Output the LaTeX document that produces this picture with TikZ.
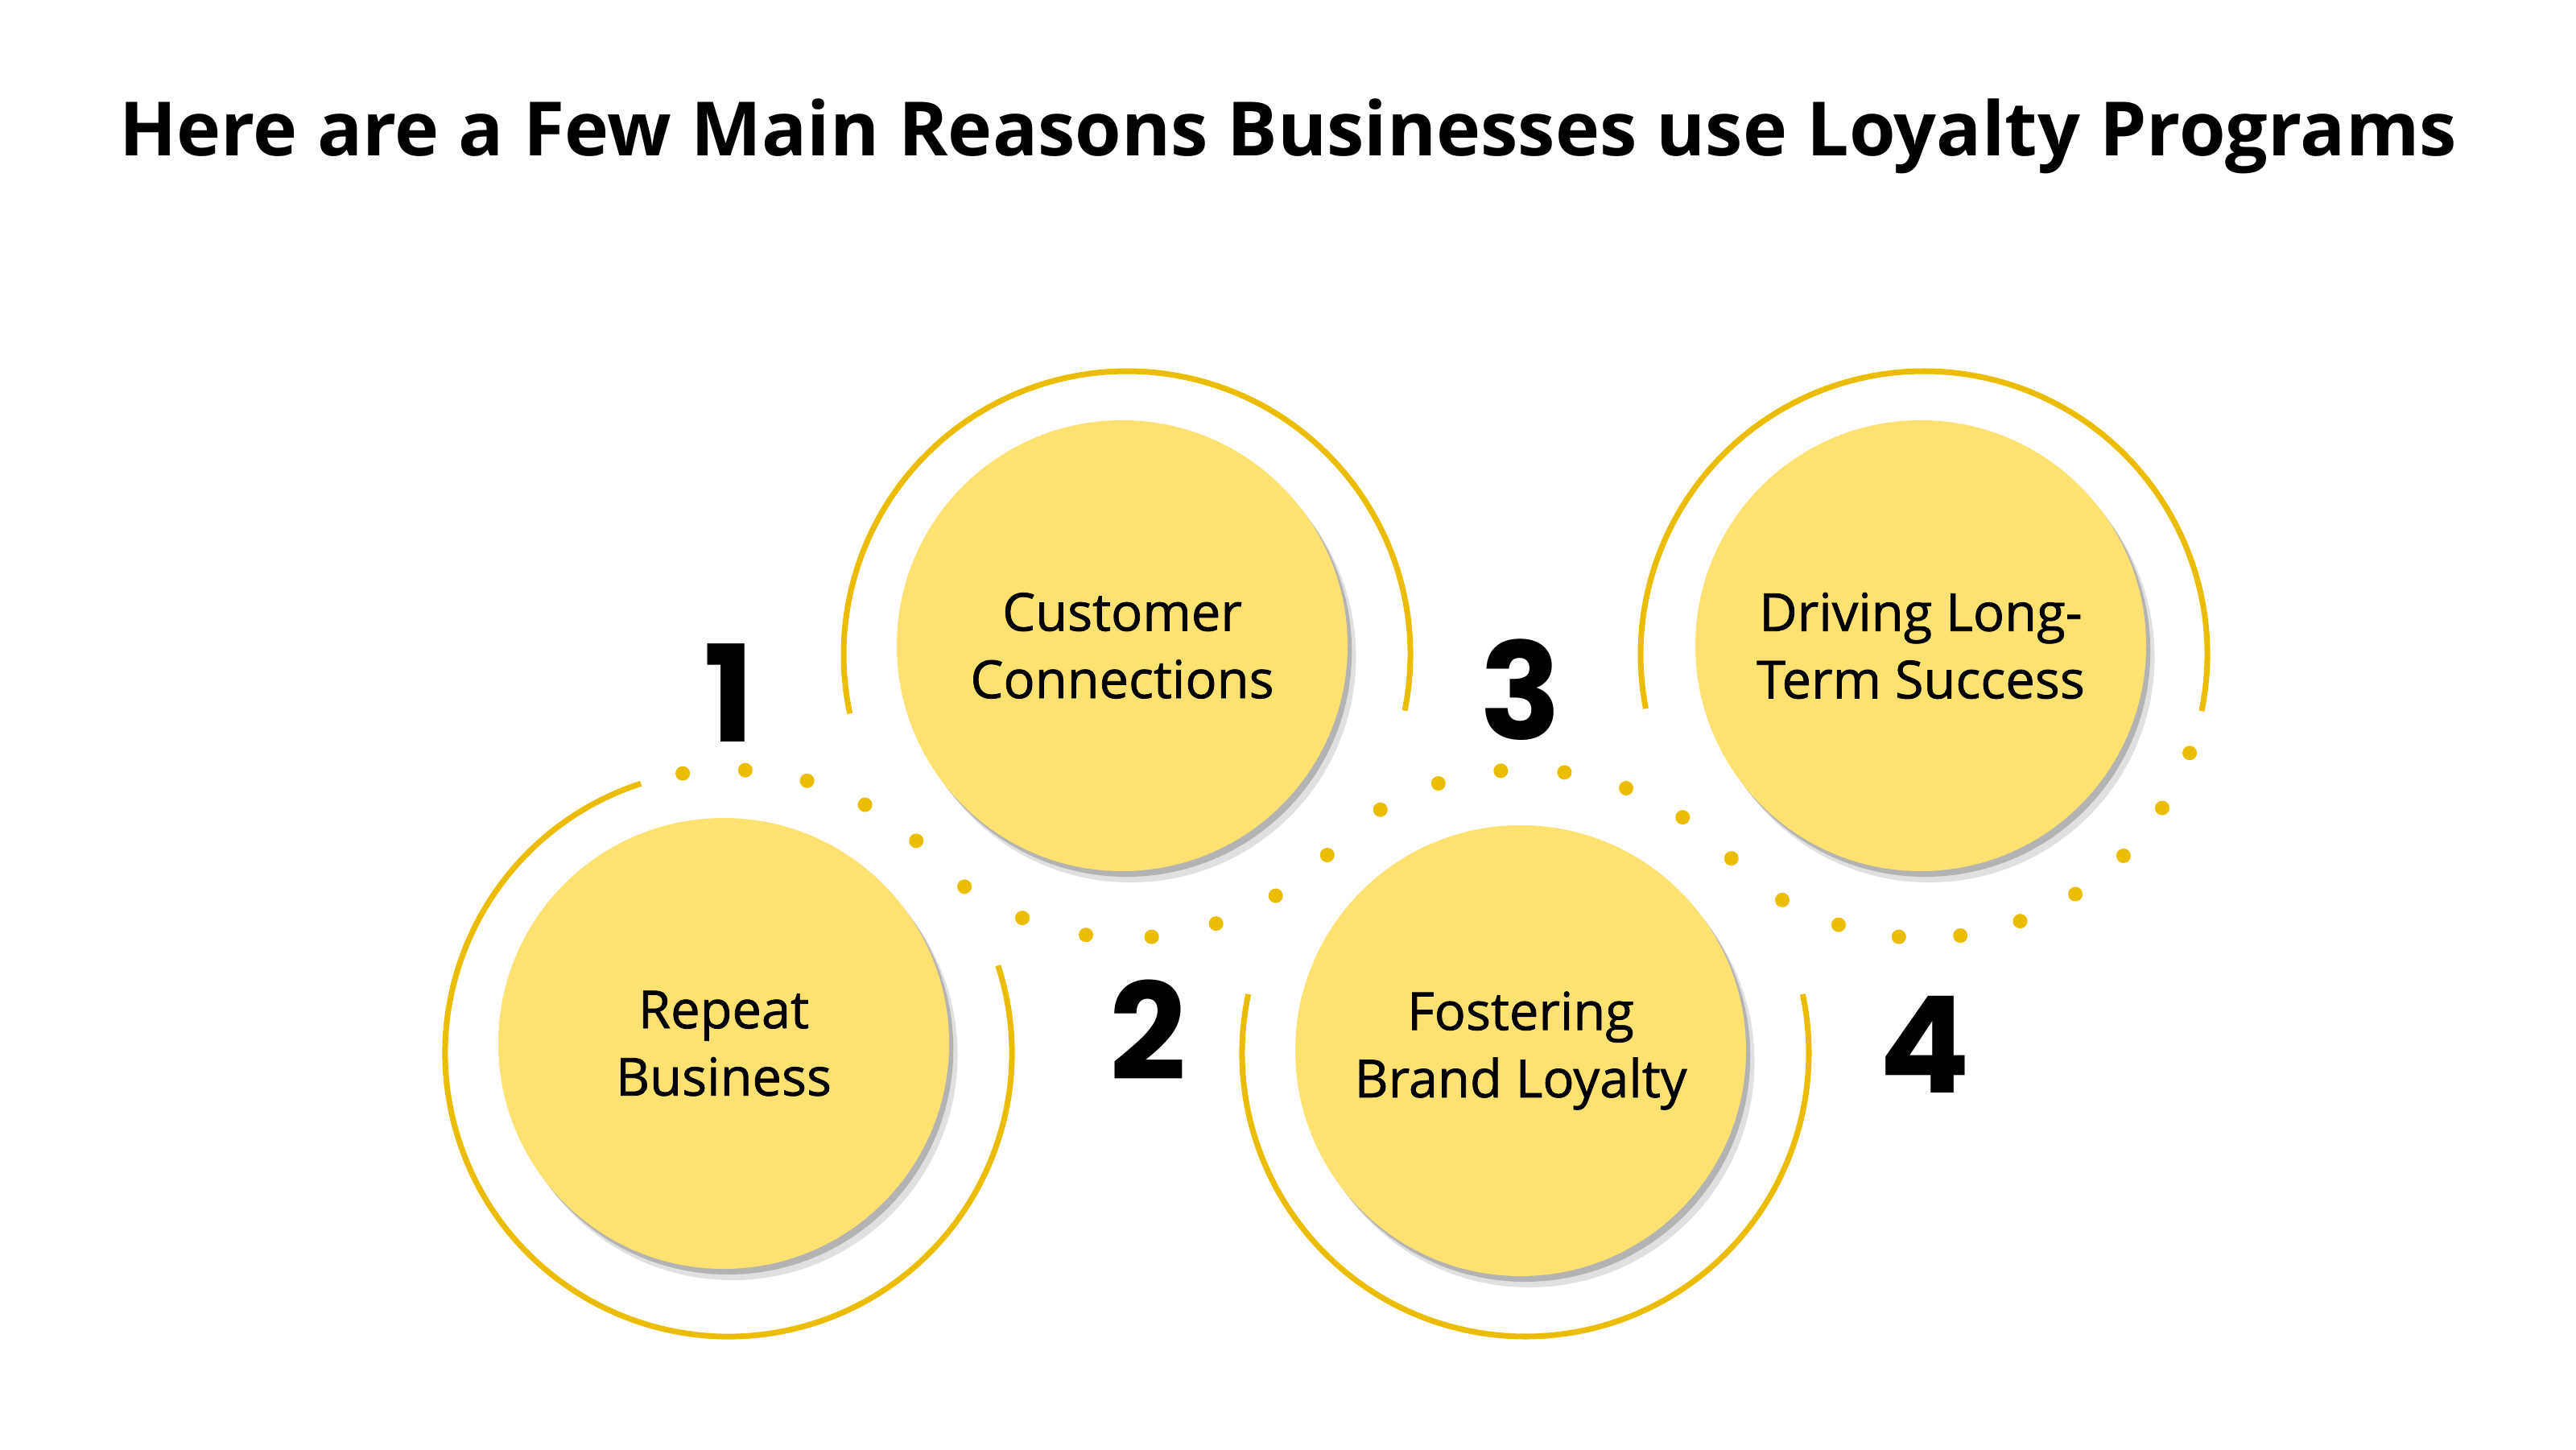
\documentclass[tikz,border=0pt]{standalone}
\usepackage{fontspec}
\usepackage{xcolor}
\usepackage{tikz}
\usetikzlibrary{shadows}
\setmainfont{Open Sans}
\newfontfamily\labelfont{Open Sans}[FakeBold=1.2]
\newfontfamily\numfont{Poppins}
\definecolor{ringgold}{HTML}{EBBD00}
\definecolor{bubblegold}{HTML}{FDE272}

\begin{document}
\begin{tikzpicture}[
    ring/.style={draw=ringgold, line width=2pt},
    bubble/.style={circle, fill=bubblegold, minimum size=5.6cm, align=center,
        font=\labelfont\fontsize{18.5}{23.8}\selectfont,
        drop shadow={shadow xshift=1.5pt, shadow yshift=-2pt, opacity=.2, fill=black},
        drop shadow={shadow xshift=3pt, shadow yshift=-4pt, opacity=.12, fill=black}},
    num/.style={font=\numfont\bfseries\fontsize{47.5}{50}\selectfont, inner sep=0pt},
    dot/.style={fill=ringgold}
]
\useasboundingbox (0,0) rectangle (32,18);
\fill[white] (0,0) rectangle (32,18);

% ring centres
\coordinate (r1) at (9.05,4.92);
\coordinate (r2) at (14.0,9.87);
\coordinate (r3) at (18.95,4.92);
\coordinate (r4) at (23.9,9.87);

\node[font=\bfseries\fontsize{26.5}{32}\selectfont, anchor=base] (title) at (16,16.06)
    {Here are a Few Main Reasons Businesses use Loyalty Programs};

% solid parts of the rings
\draw[ring] ([shift={(108:3.52)}]r1) arc[start angle=108, end angle=378, radius=3.52];
\draw[ring] ([shift={(-11.4:3.52)}]r2) arc[start angle=-11.4, end angle=192, radius=3.52];
\draw[ring] ([shift={(168:3.52)}]r3) arc[start angle=168, end angle=372, radius=3.52];
\draw[ring] ([shift={(-11.5:3.52)}]r4) arc[start angle=-11.5, end angle=191, radius=3.52];

% dotted wave
\foreach \k in {0,...,4}
    \fill[dot] ([shift={({48.5+12.7*\k}:3.52)}]r1) circle (0.09);
\foreach \k in {0,...,6}
    \fill[dot] ([shift={({235+13.33*\k}:3.52)}]r2) circle (0.09);
\foreach \k in {0,...,6}
    \fill[dot] ([shift={({43.4+12.9*\k}:3.52)}]r3) circle (0.09);
\foreach \k in {0,...,8}
    \fill[dot] ([shift={({240+12.46*\k}:3.52)}]r4) circle (0.09);

% bubbles
\node[bubble] (repeat) at ([shift={(-0.06,0.12)}]r1) {Repeat\\Business};
\node[bubble] (connect) at ([shift={(-0.06,0.11)}]r2) {Customer\\Connections};
\node[bubble] (foster) at ([shift={(-0.06,0.03)}]r3) {Fostering\\Brand Loyalty};
\node[bubble] (success) at ([shift={(-0.04,0.11)}]r4) {Driving Long-\\Term Success};

% numbers
\node[num] (n1) at (9.06,9.39) {1};
\node[num] (n2) at (14.26,5.21) {2};
\node[num] (n3) at (18.89,9.43) {3};
\node[num] (n4) at (23.91,5.03) {4};

\end{tikzpicture}
\end{document}
